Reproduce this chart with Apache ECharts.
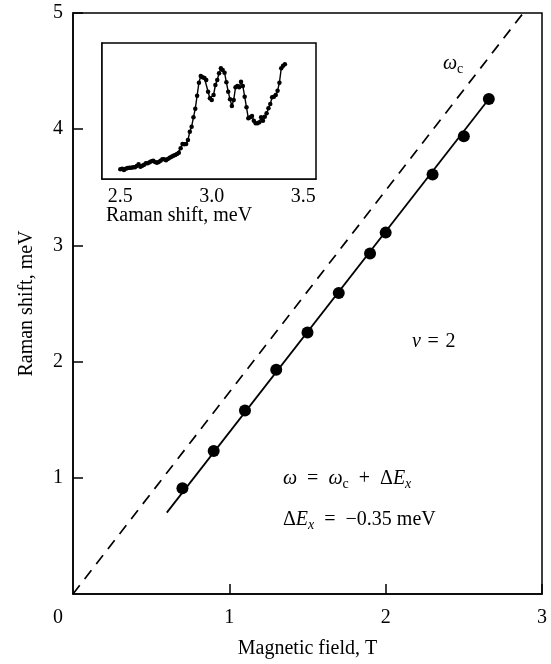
<!DOCTYPE html>
<html>
<head>
<meta charset="utf-8">
<script src="https://cdn.jsdelivr.net/npm/echarts@6/dist/echarts.min.js"></script>
<style>
html,body{margin:0;padding:0;background:#fff;}
#c{width:551px;height:664px;}
</style>
</head>
<body>
<div id="c"></div>
<script>
// Main panel data: magnetic field (T) and Raman shift (meV)
var fieldT = [0.70, 0.90, 1.10, 1.30, 1.50, 1.70, 1.90, 2.00, 2.30, 2.50, 2.66];
var ramanShift = [0.91, 1.23, 1.58, 1.93, 2.25, 2.59, 2.93, 3.11, 3.61, 3.94, 4.26];
// Fit line omega = omega_c + dEx (endpoints)
var fitX = [0.60, 2.66];
var fitY = [0.70, 4.26];
// Cyclotron line omega_c (dashed)
var cycX = [0.00, 2.88];
var cycY = [0.00, 5.00];
// Main axis ticks
var xTicks = [0, 1, 2, 3];
var yTicks = [0, 1, 2, 3, 4, 5];

// Inset spectrum: Raman shift (meV) 2.50..3.40 and intensity (arb. units)
var insetShift = [];
for (var k = 0; k <= 90; k++) insetShift.push(+(2.50 + k * 0.01).toFixed(2));
var insetIntensity = [
  9.7, 10.3, 9.0, 10.3, 11.0, 11.3, 11.3, 11.7, 11.7, 13.0,
  14.7, 12.3, 13.3, 14.3, 15.7, 15.7, 16.7, 17.7, 18.3, 17.0,
  16.3, 17.0, 18.3, 19.7, 19.7, 18.7, 20.0, 21.3, 22.3, 23.3,
  24.0, 25.0, 26.3, 30.7, 35.0, 34.7, 35.0, 39.0, 47.3, 52.3,
  61.7, 70.3, 83.3, 96.3, 103.0, 101.7, 101.0, 99.0, 87.3, 80.7,
  79.0, 84.0, 94.0, 99.0, 105.7, 110.7, 109.0, 106.3, 96.7, 87.3,
  79.7, 73.0, 79.0, 91.7, 93.0, 91.7, 97.3, 93.0, 82.3, 71.7,
  60.7, 61.7, 63.0, 58.3, 55.7, 55.7, 56.7, 61.7, 58.3, 62.3,
  65.7, 70.7, 75.0, 81.7, 82.3, 84.0, 88.3, 96.3, 110.7, 113.3,
  114.7
];
var insetTicks = [2.5, 3.0, 3.5];

var FONT = '"Liberation Serif", "Times New Roman", serif';
var FS = 20;

function pairs(xs, ys) { return xs.map(function (x, i) { return [x, ys[i]]; }); }

var chart = echarts.init(document.getElementById('c'), null, {renderer: 'canvas'});

var subRich = {
  i: {fontFamily: FONT, fontSize: FS, fontStyle: 'italic', color: '#000'},
  r: {fontFamily: FONT, fontSize: FS, color: '#000'},
  s: {fontFamily: FONT, fontSize: 14, color: '#000', padding: [10, 0, 0, 0]},
  si: {fontFamily: FONT, fontSize: 14, fontStyle: 'italic', color: '#000', padding: [10, 0, 0, 0]}
};
var EN = '\u2002', TH = '\u2004';

var option = {
  backgroundColor: '#fff',
  animation: false,
  grid: [
    {left: 73, right: 9, top: 13, bottom: 70, show: true, borderColor: '#000', borderWidth: 1.5, backgroundColor: 'transparent'},
    {left: 102, right: 235, top: 43, bottom: 485, show: true, borderColor: '#000', borderWidth: 1.5, backgroundColor: '#fff', z: 5}
  ],
  xAxis: [
    {
      gridIndex: 0, type: 'value', min: 0, max: 3, interval: 1,
      name: 'Magnetic field, T', nameLocation: 'middle', nameGap: 45,
      nameTextStyle: {fontFamily: FONT, fontSize: FS, color: '#000'},
      axisLine: {show: true, lineStyle: {color: '#000', width: 1.5}},
      axisTick: {show: true, inside: true, length: 10, lineStyle: {color: '#000', width: 1.5}},
      axisLabel: {showMinLabel: false, margin: 14, fontFamily: FONT, fontSize: FS, color: '#000'},
      splitLine: {show: false}
    },
    {
      gridIndex: 1, type: 'value', min: 2.4, max: 3.57,
      axisLine: {show: true, lineStyle: {color: '#000', width: 1.5}},
      axisTick: {show: true, inside: true, length: 9, customValues: insetTicks, lineStyle: {color: '#000', width: 1.5}},
      axisLabel: {customValues: insetTicks, margin: 8, fontFamily: FONT, fontSize: FS, color: '#000',
        formatter: function (v) { return v.toFixed(1); }},
      splitLine: {show: false}
    }
  ],
  yAxis: [
    {
      gridIndex: 0, type: 'value', min: 0, max: 5, interval: 1,
      name: 'Raman shift, meV', nameLocation: 'middle', nameGap: 36, nameRotate: 90,
      nameTextStyle: {fontFamily: FONT, fontSize: FS, color: '#000'},
      axisLine: {show: true, lineStyle: {color: '#000', width: 1.5}},
      axisTick: {show: true, inside: true, length: 10, lineStyle: {color: '#000', width: 1.5}},
      axisLabel: {showMinLabel: false, margin: 10, fontFamily: FONT, fontSize: FS, color: '#000'},
      splitLine: {show: false}
    },
    {
      gridIndex: 1, type: 'value', min: 0, max: 136,
      axisLine: {show: true, lineStyle: {color: '#000', width: 1.5}},
      axisTick: {show: false}, axisLabel: {show: false}, splitLine: {show: false}
    }
  ],
  series: [
    {
      type: 'line', xAxisIndex: 0, yAxisIndex: 0, data: pairs(cycX, cycY),
      showSymbol: false, symbol: 'none', silent: true,
      lineStyle: {color: '#000', width: 1.7, type: [11, 8]}
    },
    {
      type: 'line', xAxisIndex: 0, yAxisIndex: 0, data: pairs(fitX, fitY),
      showSymbol: false, symbol: 'none', silent: true,
      lineStyle: {color: '#000', width: 1.8}
    },
    {
      type: 'scatter', xAxisIndex: 0, yAxisIndex: 0, data: pairs(fieldT, ramanShift),
      symbol: 'circle', symbolSize: 12, itemStyle: {color: '#000', opacity: 1}
    },
    {
      type: 'line', xAxisIndex: 1, yAxisIndex: 1, data: pairs(insetShift, insetIntensity),
      symbol: 'circle', symbolSize: 4.5, showAllSymbol: true, z: 6,
      itemStyle: {color: '#000', opacity: 1}, lineStyle: {color: '#000', width: 1.4}
    }
  ],
  graphic: [
    {type: 'text', x: 58, y: 618, style: {text: '0', fontFamily: FONT, fontSize: FS, fill: '#000', align: 'center', verticalAlign: 'middle'}},
    {type: 'text', x: 106, y: 216, z: 10, style: {text: 'Raman shift, meV', fontFamily: FONT, fontSize: FS, fill: '#000', align: 'left', verticalAlign: 'middle'}},
    {type: 'text', x: 443, y: 64, style: {text: '{i|ω}{s|c}', rich: subRich, align: 'left', verticalAlign: 'middle'}},
    {type: 'text', x: 412, y: 342, style: {text: '{i|ν}{r|' + TH + '=' + TH + '2}', rich: subRich, align: 'left', verticalAlign: 'middle'}},
    {type: 'text', x: 283, y: 479, style: {text: '{i|ω}{r|' + EN + '=' + EN + '}{i|ω}{s|c}{r|' + EN + '+' + EN + 'Δ}{i|E}{si|x}', rich: subRich, align: 'left', verticalAlign: 'middle'}},
    {type: 'text', x: 283, y: 520, style: {text: '{r|Δ}{i|E}{si|x}{r|' + EN + '=' + EN + '−0.35 meV}', rich: subRich, align: 'left', verticalAlign: 'middle'}}
  ]
};
chart.setOption(option);
</script>
</body>
</html>
